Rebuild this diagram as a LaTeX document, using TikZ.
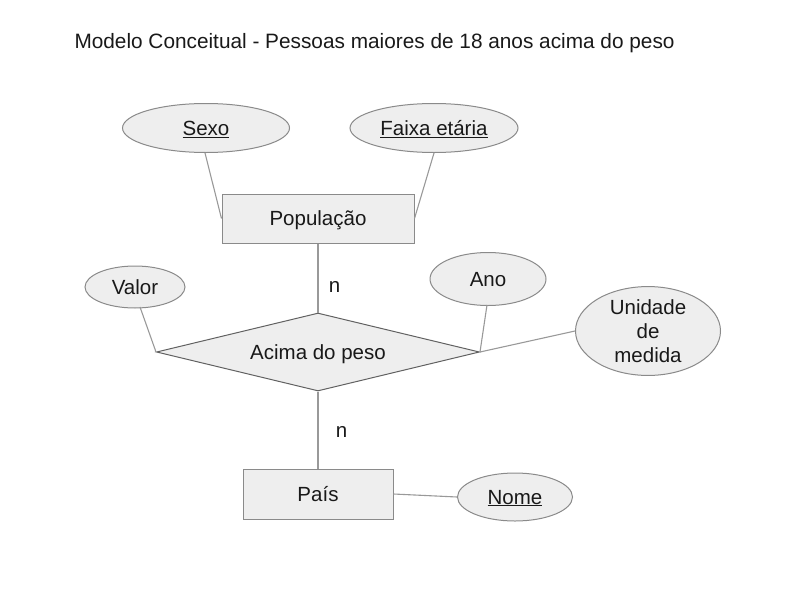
\documentclass[tikz,border=0pt]{standalone}
\usepackage{fontspec}
\setmainfont{Liberation Sans}
\usetikzlibrary{shapes.geometric}
\definecolor{fillg}{HTML}{EEEEEE}
\definecolor{edgeg}{HTML}{8A8A8A}
\definecolor{lineg}{HTML}{999999}
\begin{document}
\begin{tikzpicture}[x=1pt,y=-1pt,
  every node/.style={font=\fontsize{20.5}{24}\selectfont, text=black!90, text depth=0pt},
  ent/.style={draw=edgeg, fill=fillg, line width=1pt, rectangle, inner sep=0pt},
  attr/.style={draw=edgeg, fill=fillg, line width=1pt, ellipse, inner sep=0pt},
  rel/.style={draw=edgeg!70!black, fill=fillg, line width=1pt, diamond, inner sep=0pt, shape aspect=4.14, minimum width=323pt, minimum height=78pt},
  conn/.style={draw=lineg, line width=1.1pt}]
\useasboundingbox (0,0) rectangle (792,589);
\node[anchor=west, font=\fontsize{20.8}{24}\selectfont] (title) at (71,41) {Modelo Conceitual - Pessoas maiores de 18 anos acima do peso};

\node[attr, minimum width=167pt, minimum height=49pt] (sexo) at (206,128) {\underline{Sexo}};
\node[attr, minimum width=168pt, minimum height=49pt] (faixa) at (434,128) {\underline{Faixa etária}};
\node[ent, minimum width=192pt, minimum height=49pt] (pop) at (318,218.5) {População};

\node[rel] (acima) at (318,352) {Acima do peso};
\node[attr, minimum width=100pt, minimum height=42pt] (valor) at (135,287) {Valor};
\node[attr, minimum width=116pt, minimum height=53pt] (ano) at (488,279) {Ano};
\node[attr, minimum width=145pt, minimum height=75pt, align=center] (unid) at (648,331) {Unidade\\de\\medida};

\node[ent, minimum width=150pt, minimum height=50pt] (pais) at (318,494) {País};
\node[attr, minimum width=115pt, minimum height=48pt] (nome) at (515,497) {\underline{Nome}};

\coordinate (sexoB) at (205,153);
\coordinate (faixaB) at (434,153);
\draw[conn] (sexoB) -- (pop.west);
\draw[conn] (faixaB) -- (pop.east);
\draw[conn] (pop.south) -- node[right=7pt, pos=0.63] (n1) {n} (acima.north);
\coordinate (valorB) at (140,307);
\coordinate (anoB) at (487,305);
\draw[conn] (valorB) -- (acima.west);
\draw[conn] (anoB) -- (acima.east);
\draw[conn] (unid.west) -- (acima.east);
\draw[conn] (acima.south) -- node[right=14pt, pos=0.52] (n2) {n} (pais.north);
\draw[conn] (pais.east) -- (nome.west);
\end{tikzpicture}
\end{document}
